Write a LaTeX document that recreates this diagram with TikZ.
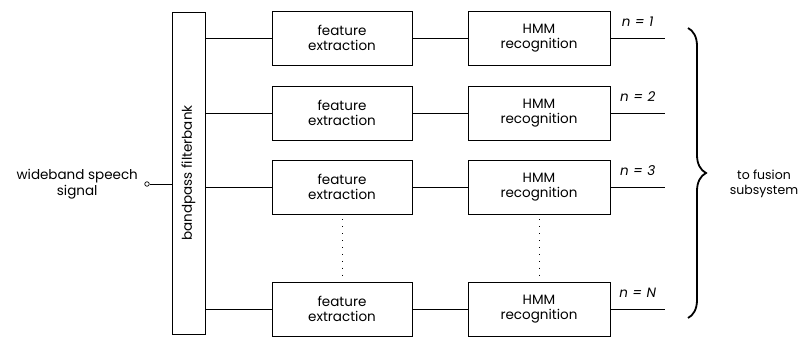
\documentclass[tikz,border=0pt]{standalone}
\usepackage{fontspec}
\setmainfont{Poppins}
\usetikzlibrary{positioning,decorations.pathreplacing}

\begin{document}
\begin{tikzpicture}[x=1pt, y=-1pt,
  box/.style={rectangle, draw, line width=0.8pt, minimum width=140pt, minimum height=54pt, align=center, font=\fontsize{13.5}{15.5}\selectfont, inner sep=2pt},
  conn/.style={line width=0.8pt},
  lbl/.style={font=\fontsize{13.5}{15.5}\selectfont\itshape, above=8pt}
]
  \useasboundingbox (0,0) rectangle (803,337);

  \node[rectangle, draw, line width=0.8pt, rotate=90, minimum width=322pt, minimum height=33pt, font=\fontsize{13.5}{15.5}\selectfont] (fb) at (188.5,173) {bandpass filterbank};

  \node[circle, draw, line width=0.7pt, inner sep=0pt, minimum size=4.5pt] (in) at (147,184) {};
  \node[left=3pt of in, align=center, font=\fontsize{13.5}{15.5}\selectfont] (sig) {wideband speech\\signal};

  \node[box] (fe1) at (342,38) {feature\\extraction};
  \node[box] (fe2) at (342,113) {feature\\extraction};
  \node[box] (fe3) at (342,187) {feature\\extraction};
  \node[box] (fe4) at (342,309) {feature\\extraction};

  \node[box, minimum width=142pt] (hmm1) at (539,38) {HMM\\recognition};
  \node[box, minimum width=142pt] (hmm2) at (539,113) {HMM\\recognition};
  \node[box, minimum width=142pt] (hmm3) at (539,187) {HMM\\recognition};
  \node[box, minimum width=142pt] (hmm4) at (539,309) {HMM\\recognition};

  \coordinate (out1) at (665,38);
  \coordinate (out2) at (665,113);
  \coordinate (out3) at (665,187);
  \coordinate (out4) at (665,309);

  % input and filterbank outputs
  \draw[conn] (in.east) -- (in.east -| fb.north);
  \draw[conn] (fe1.west -| fb.south) -- (fe1.west);
  \draw[conn] (fe2.west -| fb.south) -- (fe2.west);
  \draw[conn] (fe3.west -| fb.south) -- (fe3.west);
  \draw[conn] (fe4.west -| fb.south) -- (fe4.west);

  \draw[conn] (fe1) -- (hmm1);
  \draw[conn] (fe2) -- (hmm2);
  \draw[conn] (fe3) -- (hmm3);
  \draw[conn] (fe4) -- (hmm4);

  \draw[conn] (hmm1) -- node[lbl] {n\hspace{4.5pt}=\hspace{4.5pt}1} (out1);
  \draw[conn] (hmm2) -- node[lbl] {n\hspace{4.5pt}=\hspace{4.5pt}2} (out2);
  \draw[conn] (hmm3) -- node[lbl] {n\hspace{4.5pt}=\hspace{4.5pt}3} (out3);
  \draw[conn] (hmm4) -- node[lbl] {n\hspace{4.5pt}=\hspace{4.5pt}N} (out4);

  % dotted continuation
  \draw[line width=0.9pt, dash pattern=on 0.9pt off 6pt, shorten >=5pt, shorten <=5pt] (fe3) -- (fe4);
  \draw[line width=0.9pt, dash pattern=on 0.9pt off 6pt, shorten >=5pt, shorten <=5pt] (hmm3) -- (hmm4);

  % brace to fusion
  \draw[line width=1.8pt, decorate, decoration={brace, amplitude=18pt}] (688,28) -- (688,318);
  \node[align=center, font=\fontsize{12.5}{15.5}\selectfont] (fus) at (764,184) {to fusion\\subsystem};
\end{tikzpicture}
\end{document}
